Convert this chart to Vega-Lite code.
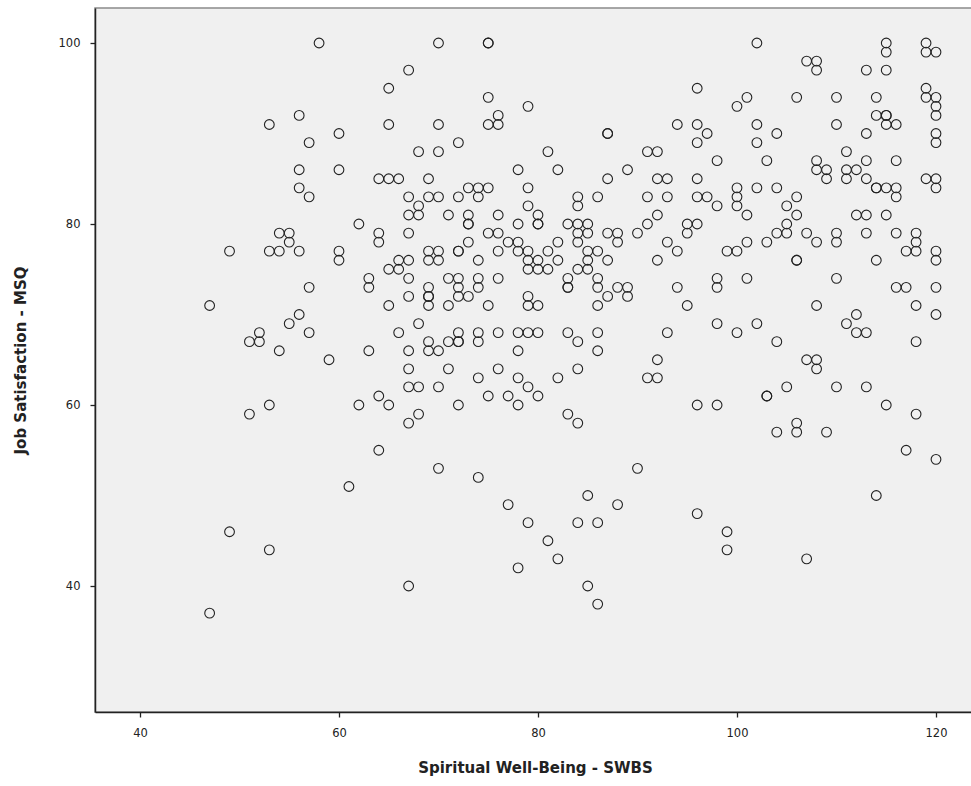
{
  "$schema": "https://vega.github.io/schema/vega-lite/v6.json",
  "width": 880,
  "height": 704,
  "autosize": {"type": "none"},
  "padding": {"left": 95, "top": 8, "right": 0, "bottom": 74},
  "background": "white",
  "config": {
    "view": {"fill": "#f0f0f0", "stroke": "#8a8a8a", "strokeWidth": 1.5},
    "axis": {
      "grid": false,
      "domainColor": "#222",
      "domainWidth": 1.5,
      "tickColor": "#222",
      "tickSize": 5,
      "tickWidth": 1.3,
      "labelFont": "DejaVu Sans",
      "labelFontSize": 11.5,
      "labelColor": "#222",
      "titleFont": "DejaVu Sans",
      "titleFontSize": 15,
      "titleFontWeight": "bold",
      "titleColor": "#222"
    }
  },
  "data": {"values": [
    {"swbs":58,"msq":100},{"swbs":65,"msq":95},{"swbs":56,"msq":92},{"swbs":53,"msq":91},{"swbs":65,"msq":91},{"swbs":60,"msq":90},{"swbs":57,"msq":89},{"swbs":56,"msq":86},{"swbs":60,"msq":86},{"swbs":64,"msq":85},{"swbs":65,"msq":85},{"swbs":66,"msq":85},{"swbs":56,"msq":84},{"swbs":57,"msq":83},{"swbs":62,"msq":80},{"swbs":54,"msq":79},{"swbs":55,"msq":79},{"swbs":55,"msq":78},{"swbs":64,"msq":79},{"swbs":64,"msq":78},{"swbs":49,"msq":77},{"swbs":53,"msq":77},{"swbs":54,"msq":77},{"swbs":56,"msq":77},{"swbs":60,"msq":77},{"swbs":60,"msq":76},{"swbs":66,"msq":76},{"swbs":65,"msq":75},{"swbs":66,"msq":75},{"swbs":63,"msq":74},{"swbs":63,"msq":73},{"swbs":57,"msq":73},{"swbs":47,"msq":71},{"swbs":65,"msq":71},{"swbs":56,"msq":70},{"swbs":55,"msq":69},{"swbs":52,"msq":68},{"swbs":52,"msq":67},{"swbs":51,"msq":67},{"swbs":57,"msq":68},{"swbs":54,"msq":66},{"swbs":63,"msq":66},{"swbs":59,"msq":65},{"swbs":66,"msq":68},{"swbs":64,"msq":61},{"swbs":62,"msq":60},{"swbs":65,"msq":60},{"swbs":53,"msq":60},{"swbs":51,"msq":59},{"swbs":64,"msq":55},{"swbs":61,"msq":51},{"swbs":49,"msq":46},{"swbs":53,"msq":44},{"swbs":47,"msq":37},
    {"swbs":70,"msq":100},{"swbs":75,"msq":100},{"swbs":75,"msq":100},{"swbs":67,"msq":97},{"swbs":75,"msq":94},{"swbs":79,"msq":93},{"swbs":76,"msq":92},{"swbs":75,"msq":91},{"swbs":76,"msq":91},{"swbs":70,"msq":91},{"swbs":72,"msq":89},{"swbs":68,"msq":88},{"swbs":70,"msq":88},{"swbs":81,"msq":88},{"swbs":78,"msq":86},{"swbs":82,"msq":86},{"swbs":69,"msq":85},{"swbs":73,"msq":84},{"swbs":74,"msq":84},{"swbs":75,"msq":84},{"swbs":79,"msq":84},{"swbs":67,"msq":83},{"swbs":69,"msq":83},{"swbs":70,"msq":83},{"swbs":72,"msq":83},{"swbs":74,"msq":83},{"swbs":84,"msq":83},{"swbs":84,"msq":82},{"swbs":68,"msq":82},{"swbs":79,"msq":82},{"swbs":67,"msq":81},{"swbs":68,"msq":81},{"swbs":71,"msq":81},{"swbs":73,"msq":81},{"swbs":73,"msq":80},{"swbs":73,"msq":80},{"swbs":76,"msq":81},{"swbs":80,"msq":81},{"swbs":80,"msq":80},{"swbs":80,"msq":80},{"swbs":78,"msq":80},{"swbs":83,"msq":80},{"swbs":84,"msq":80},{"swbs":85,"msq":80},
    {"swbs":67,"msq":79},{"swbs":75,"msq":79},{"swbs":76,"msq":79},{"swbs":84,"msq":79},{"swbs":85,"msq":79},{"swbs":84,"msq":78},{"swbs":73,"msq":78},{"swbs":77,"msq":78},{"swbs":78,"msq":78},{"swbs":78,"msq":77},{"swbs":79,"msq":77},{"swbs":76,"msq":77},{"swbs":81,"msq":77},{"swbs":82,"msq":78},{"swbs":69,"msq":77},{"swbs":70,"msq":77},{"swbs":72,"msq":77},{"swbs":72,"msq":77},{"swbs":67,"msq":76},{"swbs":69,"msq":76},{"swbs":70,"msq":76},{"swbs":74,"msq":76},{"swbs":79,"msq":76},{"swbs":80,"msq":76},{"swbs":82,"msq":76},{"swbs":79,"msq":75},{"swbs":80,"msq":75},{"swbs":81,"msq":75},{"swbs":84,"msq":75},{"swbs":67,"msq":74},{"swbs":71,"msq":74},{"swbs":72,"msq":74},{"swbs":74,"msq":74},{"swbs":74,"msq":73},{"swbs":76,"msq":74},{"swbs":83,"msq":74},{"swbs":83,"msq":73},{"swbs":83,"msq":73},{"swbs":69,"msq":73},{"swbs":69,"msq":72},{"swbs":69,"msq":72},{"swbs":69,"msq":71},{"swbs":72,"msq":73},{"swbs":72,"msq":72},{"swbs":73,"msq":72},{"swbs":67,"msq":72},{"swbs":79,"msq":72},{"swbs":79,"msq":71},{"swbs":80,"msq":71},{"swbs":71,"msq":71},{"swbs":75,"msq":71},{"swbs":68,"msq":69},{"swbs":72,"msq":68},{"swbs":72,"msq":67},{"swbs":72,"msq":67},{"swbs":74,"msq":68},{"swbs":74,"msq":67},{"swbs":76,"msq":68},{"swbs":78,"msq":68},{"swbs":79,"msq":68},{"swbs":80,"msq":68},{"swbs":83,"msq":68},{"swbs":84,"msq":67},{"swbs":69,"msq":67},{"swbs":69,"msq":66},{"swbs":70,"msq":66},{"swbs":71,"msq":67},{"swbs":67,"msq":66},{"swbs":78,"msq":66},{"swbs":67,"msq":64},{"swbs":71,"msq":64},{"swbs":76,"msq":64},{"swbs":84,"msq":64},{"swbs":67,"msq":62},{"swbs":68,"msq":62},{"swbs":70,"msq":62},{"swbs":74,"msq":63},{"swbs":78,"msq":63},{"swbs":79,"msq":62},{"swbs":82,"msq":63},{"swbs":72,"msq":60},{"swbs":75,"msq":61},{"swbs":77,"msq":61},{"swbs":78,"msq":60},{"swbs":80,"msq":61},{"swbs":67,"msq":58},{"swbs":68,"msq":59},{"swbs":83,"msq":59},{"swbs":84,"msq":58},
    {"swbs":70,"msq":53},{"swbs":74,"msq":52},{"swbs":77,"msq":49},{"swbs":79,"msq":47},{"swbs":81,"msq":45},{"swbs":82,"msq":43},{"swbs":78,"msq":42},{"swbs":67,"msq":40},{"swbs":84,"msq":47},
    {"swbs":102,"msq":100},{"swbs":96,"msq":95},{"swbs":101,"msq":94},{"swbs":100,"msq":93},{"swbs":94,"msq":91},{"swbs":96,"msq":91},{"swbs":102,"msq":91},{"swbs":87,"msq":90},{"swbs":87,"msq":90},{"swbs":97,"msq":90},{"swbs":96,"msq":89},{"swbs":102,"msq":89},{"swbs":104,"msq":90},{"swbs":91,"msq":88},{"swbs":92,"msq":88},{"swbs":98,"msq":87},{"swbs":103,"msq":87},{"swbs":89,"msq":86},{"swbs":87,"msq":85},{"swbs":92,"msq":85},{"swbs":93,"msq":85},{"swbs":96,"msq":85},{"swbs":86,"msq":83},{"swbs":91,"msq":83},{"swbs":93,"msq":83},{"swbs":96,"msq":83},{"swbs":97,"msq":83},{"swbs":100,"msq":84},{"swbs":100,"msq":83},{"swbs":100,"msq":82},{"swbs":102,"msq":84},{"swbs":104,"msq":84},{"swbs":98,"msq":82},{"swbs":92,"msq":81},{"swbs":101,"msq":81},{"swbs":91,"msq":80},{"swbs":95,"msq":80},{"swbs":96,"msq":80},
    {"swbs":87,"msq":79},{"swbs":88,"msq":79},{"swbs":88,"msq":78},{"swbs":90,"msq":79},{"swbs":95,"msq":79},{"swbs":85,"msq":77},{"swbs":85,"msq":76},{"swbs":85,"msq":75},{"swbs":86,"msq":77},{"swbs":87,"msq":76},{"swbs":92,"msq":76},{"swbs":93,"msq":78},{"swbs":94,"msq":77},{"swbs":99,"msq":77},{"swbs":100,"msq":77},{"swbs":101,"msq":78},{"swbs":103,"msq":78},{"swbs":104,"msq":79},{"swbs":86,"msq":74},{"swbs":86,"msq":73},{"swbs":88,"msq":73},{"swbs":89,"msq":73},{"swbs":89,"msq":72},{"swbs":87,"msq":72},{"swbs":86,"msq":71},{"swbs":94,"msq":73},{"swbs":95,"msq":71},{"swbs":98,"msq":74},{"swbs":98,"msq":73},{"swbs":101,"msq":74},{"swbs":86,"msq":68},{"swbs":86,"msq":66},{"swbs":93,"msq":68},{"swbs":98,"msq":69},{"swbs":100,"msq":68},{"swbs":102,"msq":69},{"swbs":104,"msq":67},{"swbs":92,"msq":65},{"swbs":91,"msq":63},{"swbs":92,"msq":63},{"swbs":103,"msq":61},{"swbs":103,"msq":61},{"swbs":96,"msq":60},{"swbs":98,"msq":60},{"swbs":104,"msq":57},
    {"swbs":90,"msq":53},{"swbs":85,"msq":50},{"swbs":88,"msq":49},{"swbs":86,"msq":47},{"swbs":96,"msq":48},{"swbs":99,"msq":46},{"swbs":99,"msq":44},{"swbs":85,"msq":40},{"swbs":86,"msq":38},
    {"swbs":115,"msq":100},{"swbs":115,"msq":99},{"swbs":119,"msq":100},{"swbs":119,"msq":99},{"swbs":120,"msq":99},{"swbs":107,"msq":98},{"swbs":108,"msq":98},{"swbs":108,"msq":97},{"swbs":113,"msq":97},{"swbs":115,"msq":97},{"swbs":106,"msq":94},{"swbs":110,"msq":94},{"swbs":114,"msq":94},{"swbs":119,"msq":95},{"swbs":119,"msq":94},{"swbs":120,"msq":94},{"swbs":120,"msq":93},{"swbs":120,"msq":92},{"swbs":114,"msq":92},{"swbs":115,"msq":92},{"swbs":115,"msq":92},{"swbs":115,"msq":91},{"swbs":116,"msq":91},{"swbs":110,"msq":91},{"swbs":113,"msq":90},{"swbs":120,"msq":90},{"swbs":120,"msq":89},{"swbs":111,"msq":88},{"swbs":108,"msq":87},{"swbs":108,"msq":86},{"swbs":109,"msq":86},{"swbs":109,"msq":85},{"swbs":111,"msq":86},{"swbs":111,"msq":85},{"swbs":112,"msq":86},{"swbs":113,"msq":87},{"swbs":113,"msq":85},{"swbs":116,"msq":87},{"swbs":114,"msq":84},{"swbs":114,"msq":84},{"swbs":115,"msq":84},{"swbs":116,"msq":84},{"swbs":116,"msq":83},{"swbs":119,"msq":85},{"swbs":120,"msq":85},{"swbs":120,"msq":84},{"swbs":106,"msq":83},{"swbs":105,"msq":82},{"swbs":106,"msq":81},{"swbs":105,"msq":80},{"swbs":112,"msq":81},{"swbs":113,"msq":81},{"swbs":115,"msq":81},
    {"swbs":105,"msq":79},{"swbs":107,"msq":79},{"swbs":108,"msq":78},{"swbs":110,"msq":79},{"swbs":110,"msq":78},{"swbs":113,"msq":79},{"swbs":116,"msq":79},{"swbs":118,"msq":79},{"swbs":118,"msq":78},{"swbs":118,"msq":77},{"swbs":117,"msq":77},{"swbs":120,"msq":77},{"swbs":120,"msq":76},{"swbs":106,"msq":76},{"swbs":106,"msq":76},{"swbs":114,"msq":76},{"swbs":110,"msq":74},{"swbs":116,"msq":73},{"swbs":117,"msq":73},{"swbs":120,"msq":73},{"swbs":108,"msq":71},{"swbs":118,"msq":71},{"swbs":120,"msq":70},{"swbs":112,"msq":70},{"swbs":111,"msq":69},{"swbs":112,"msq":68},{"swbs":113,"msq":68},{"swbs":118,"msq":67},{"swbs":107,"msq":65},{"swbs":108,"msq":65},{"swbs":108,"msq":64},{"swbs":105,"msq":62},{"swbs":110,"msq":62},{"swbs":113,"msq":62},{"swbs":115,"msq":60},{"swbs":118,"msq":59},{"swbs":106,"msq":58},{"swbs":106,"msq":57},{"swbs":109,"msq":57},
    {"swbs":117,"msq":55},{"swbs":120,"msq":54},{"swbs":114,"msq":50},{"swbs":107,"msq":43}
  ]},
  "mark": {"type": "point", "shape": "circle", "filled": false, "stroke": "#222", "strokeWidth": 1.1, "size": 95, "opacity": 1, "clip": true},
  "encoding": {
    "x": {
      "field": "swbs", "type": "quantitative",
      "title": "Spiritual Well-Being - SWBS",
      "scale": {"domain": [35.48, 123.92], "nice": false, "zero": false},
      "axis": {"values": [40, 60, 80, 100, 120], "labelPadding": 10, "titlePadding": 22}
    },
    "y": {
      "field": "msq", "type": "quantitative",
      "title": "Job Satisfaction - MSQ",
      "scale": {"domain": [26.08, 103.87], "nice": false, "zero": false},
      "axis": {"values": [40, 60, 80, 100], "labelPadding": 10, "titlePadding": 30}
    }
  }
}
